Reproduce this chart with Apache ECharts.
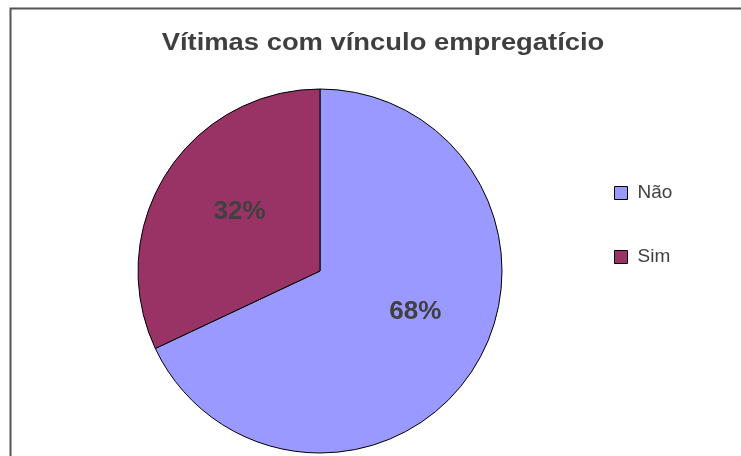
<!DOCTYPE html>
<html>
<head>
<meta charset="utf-8">
<script src="https://cdn.jsdelivr.net/npm/echarts@6/dist/echarts.min.js"></script>
<style>
  html, body { margin: 0; padding: 0; background: #fff; }
  #chart { width: 741px; height: 456px; }
</style>
</head>
<body>
<div id="chart"></div>
<script>
const titleText = 'Vítimas com vínculo empregatício';
const categories = ['Não', 'Sim'];
const values = [68, 32];
const colors = ['#9999FF', '#993366'];
const labelOffsets = [[16, -10], [-1, -9]];

const myChart = echarts.init(document.getElementById('chart'));

let pieData = categories.map(function (name, i) {
  return {
    name: name,
    value: values[i],
    itemStyle: { color: colors[i] },
    label: { offset: labelOffsets[i] }
  };
});

let option = {
  animation: false,
  graphic: [
    {
      type: 'rect',
      shape: { x: 10.5, y: 8.5, width: 800, height: 600 },
      style: { fill: 'none', stroke: '#555', lineWidth: 2 },
      silent: true
    },
    {
      // title drawn as graphic text so it can be stretched like the original
      type: 'text',
      x: 383,
      y: 44,
      scaleX: 1.19,
      style: {
        text: titleText,
        align: 'center',
        verticalAlign: 'middle',
        font: 'bold 23px "Liberation Sans", Arial, sans-serif',
        fill: '#3f3f3f'
      },
      silent: true
    }
  ],
  legend: {
    orient: 'vertical',
    left: 614,
    top: 183,
    padding: 0,
    icon: 'rect',
    itemWidth: 13,
    itemHeight: 13,
    itemGap: 44,
    data: categories,
    itemStyle: { borderColor: '#000', borderWidth: 1 },
    textStyle: {
      fontFamily: 'Liberation Sans, Arial, sans-serif',
      fontSize: 19,
      lineHeight: 20,
      color: '#3f3f3f',
      padding: [0, 0, 0, 5]
    }
  },
  series: [
    {
      type: 'pie',
      center: [320, 271],
      radius: 182,
      startAngle: 90,
      clockwise: true,
      data: pieData,
      itemStyle: { borderColor: '#000', borderWidth: 1 },
      label: {
        position: 'inside',
        formatter: '{d}%',
        fontFamily: 'Liberation Sans, Arial, sans-serif',
        fontSize: 26,
        fontWeight: 'bold',
        color: '#404040'
      },
      labelLine: { show: false },
      emphasis: { disabled: true }
    }
  ]
};

myChart.setOption(option);
</script>
</body>
</html>
